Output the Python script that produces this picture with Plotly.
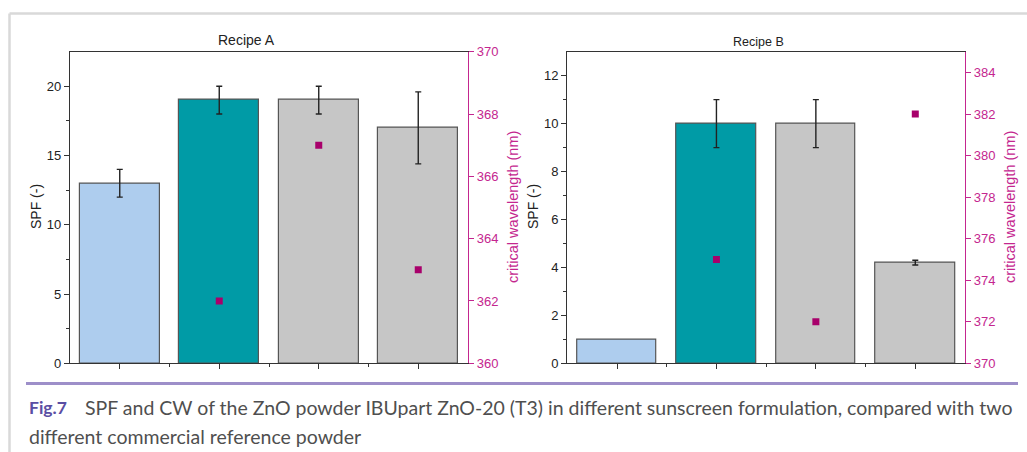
import plotly.graph_objects as go

W, H = 1027, 452

categories = [0, 1, 2, 3]
bar_colors = ["#aecdee", "#009ba6", "#c6c6c6", "#c6c6c6"]

spf_a = [13, 19, 19, 17]
spf_a_err = [1, 1, 1, 2.6]
cw_a = [None, 362, 367, 363]

spf_b = [1, 10, 10, 4.2]
spf_b_err = [None, 1, 1, 0.1]
cw_b = [None, 375, 372, 382]

spf_a_ticks = [0, 5, 10, 15, 20]
cw_a_ticks = [360, 362, 364, 366, 368, 370]
spf_b_ticks = [0, 2, 4, 6, 8, 10, 12]
cw_b_ticks = [370, 372, 374, 376, 378, 380, 382, 384]

MAG = "#c4268f"
MARK = "#a8006b"
AX = "#333333"
FONT = "Liberation Sans, Arial, sans-serif"


def px(x):
    return x / W


def py(y):
    return 1 - y / H


def add_panel(fig, spf, err, cw, xax, yax, yax2):
    fig.add_trace(go.Bar(x=categories, y=spf, width=0.8,
                         marker=dict(color=bar_colors, line=dict(color="#555555", width=1.2)),
                         xaxis=xax, yaxis=yax, showlegend=False, hoverinfo="skip"))
    # error bars only where an error exists
    ypts = [v if e is not None else None for v, e in zip(spf, err)]
    evals = [e if e is not None else 0 for e in err]
    fig.add_trace(go.Scatter(x=categories, y=ypts, mode="markers", marker=dict(size=1, opacity=0),
                             error_y=dict(type="data", array=evals, color="#222222", thickness=1.4, width=3),
                             xaxis=xax, yaxis=yax, showlegend=False, hoverinfo="skip"))
    fig.add_trace(go.Scatter(x=categories, y=cw, mode="markers",
                             marker=dict(symbol="square", size=7, color=MARK),
                             xaxis=xax, yaxis=yax2, showlegend=False))


fig = go.Figure()
add_panel(fig, spf_a, spf_a_err, cw_a, "x", "y", "y2")
add_panel(fig, spf_b, spf_b_err, cw_b, "x2", "y3", "y4")

ydom = [py(363.3), py(51.7)]
xa = [px(70), px(468)]
xb = [px(567.3), px(965)]

xcommon = dict(range=[-0.5, 3.5], tickvals=categories, showticklabels=False, ticks="outside", ticklen=5,
               tickcolor=AX, tickwidth=1.2, showline=True, linecolor=AX, linewidth=1.3, mirror=True,
               showgrid=False, zeroline=False, automargin=False,
               minor=dict(tickvals=[0.5, 1.5, 2.5], ticks="outside", ticklen=3, tickcolor=AX, tickwidth=1.2))

ycommon = dict(ticks="outside", ticklen=5, tickwidth=1.2, showline=True, linewidth=1.3, showgrid=False,
               zeroline=False, automargin=False)

TF = 13
fig.update_layout(
    width=W, height=H, autosize=False, margin=dict(l=0, r=0, t=0, b=0, pad=0),
    paper_bgcolor="white", plot_bgcolor="white",
    font=dict(family=FONT, size=12, color="#222222"),
    bargap=0, barmode="overlay",
    xaxis=dict(domain=xa, anchor="y", **xcommon),
    xaxis2=dict(domain=xb, anchor="y3", **xcommon),
    yaxis=dict(domain=ydom, anchor="x", range=[0, 22.5], tickvals=spf_a_ticks, tickcolor=AX, linecolor=AX,
               tickfont=dict(size=TF, color="#222222"),
               minor=dict(tickvals=[2.5, 7.5, 12.5, 17.5], ticks="outside", ticklen=3, tickcolor=AX, tickwidth=1.2),
               **ycommon),
    yaxis2=dict(domain=ydom, anchor="x", overlaying="y", side="right", range=[360, 370], tickvals=cw_a_ticks,
                tickcolor=MAG, linecolor=MAG, tickfont=dict(size=TF, color=MAG), **ycommon),
    yaxis3=dict(domain=ydom, anchor="x2", range=[0, 13], tickvals=spf_b_ticks, tickcolor=AX, linecolor=AX,
                tickfont=dict(size=TF, color="#222222"),
                minor=dict(tickvals=[1, 3, 5, 7, 9, 11], ticks="outside", ticklen=3, tickcolor=AX, tickwidth=1.2),
                **ycommon),
    yaxis4=dict(domain=ydom, anchor="x2", overlaying="y3", side="right", range=[370, 385], tickvals=cw_b_ticks,
                tickcolor=MAG, linecolor=MAG, tickfont=dict(size=TF, color=MAG), **ycommon),
)

ann = []
ann.append(dict(text="Recipe A", x=px(246), y=py(40), xref="paper", yref="paper", showarrow=False,
                xanchor="center", yanchor="middle", font=dict(size=14, color="#222222", family=FONT)))
ann.append(dict(text="Recipe B", x=px(758), y=py(42), xref="paper", yref="paper", showarrow=False,
                xanchor="center", yanchor="middle", font=dict(size=12.5, color="#222222", family=FONT)))
for xx in (36, 533):
    ann.append(dict(text="SPF (-)", x=px(xx), y=py(207), xref="paper", yref="paper", showarrow=False, textangle=-90,
                    xanchor="center", yanchor="middle", font=dict(size=14, color="#222222", family=FONT)))
for xx in (513, 1010):
    ann.append(dict(text="critical wavelength (nm)", x=px(xx), y=py(207), xref="paper", yref="paper",
                    showarrow=False, textangle=-90, xanchor="center", yanchor="middle",
                    font=dict(size=14.5, color=MAG, family=FONT)))

CAP = "Lato, Open Sans, sans-serif"
ann.append(dict(text="<b>Fig.7</b>", x=px(27), y=py(407), xref="paper", yref="paper", showarrow=False,
                xanchor="left", yanchor="middle", font=dict(size=17.5, color="#5a4ea3", family=CAP)))
ann.append(dict(text="SPF and CW of the ZnO powder IBUpart ZnO-20 (T3) in different sunscreen formulation, compared with two",
                x=px(83), y=py(407), xref="paper", yref="paper", showarrow=False,
                xanchor="left", yanchor="middle", font=dict(size=19.5, color="#4f4f4f", family=CAP)))
ann.append(dict(text="different commercial reference powder",
                x=px(27), y=py(436), xref="paper", yref="paper", showarrow=False,
                xanchor="left", yanchor="middle", font=dict(size=19.5, color="#4f4f4f", family=CAP)))
fig.update_layout(annotations=ann)

shapes = [
    dict(type="line", xref="paper", yref="paper", x0=px(9.5), x1=1, y0=py(13.5), y1=py(13.5),
         line=dict(color="#d9d9d9", width=2.5)),
    dict(type="line", xref="paper", yref="paper", x0=px(9.5), x1=px(9.5), y0=py(13.5), y1=0,
         line=dict(color="#d9d9d9", width=2.5)),
    dict(type="line", xref="paper", yref="paper", x0=px(26), x1=px(1018), y0=py(383.5), y1=py(383.5),
         line=dict(color="#9d8fc9", width=3)),
]
fig.update_layout(shapes=shapes)

fig.write_html("out.html", config={"displayModeBar": False},
               post_script="document.body.style.margin='0';document.body.style.overflow='hidden';")
